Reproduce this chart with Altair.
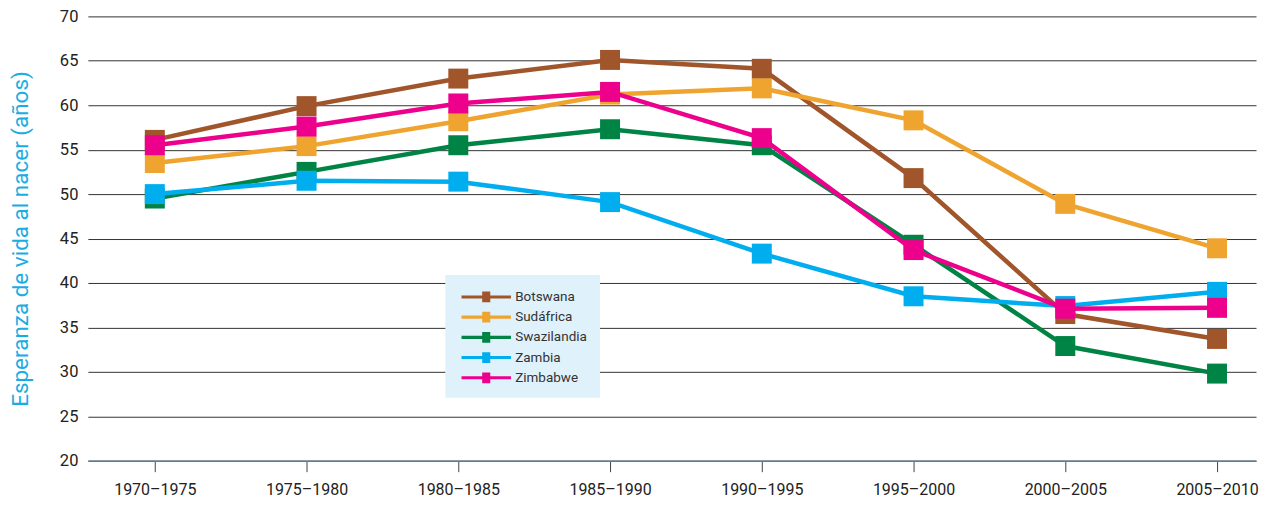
import altair as alt
import pandas as pd

periods = ["1970–1975", "1975–1980", "1980–1985", "1985–1990",
           "1990–1995", "1995–2000", "2000–2005", "2005–2010"]
countries = ["Botswana", "Sudáfrica", "Swazilandia", "Zambia", "Zimbabwe"]
colors = ["#A0552B", "#F0A430", "#008445", "#00AEEF", "#EC008C"]

botswana = [56.1, 59.9, 63.0, 65.1, 64.1, 51.8, 36.5, 33.7]
sudafrica = [53.5, 55.4, 58.2, 61.2, 61.9, 58.3, 48.9, 43.9]
swazilandia = [49.5, 52.5, 55.5, 57.3, 55.5, 44.3, 32.9, 29.8]
zambia = [50.0, 51.5, 51.4, 49.1, 43.3, 38.5, 37.4, 39.0]
zimbabwe = [55.5, 57.6, 60.2, 61.5, 56.3, 43.7, 37.1, 37.2]

y_ticks = [20, 25, 30, 35, 40, 45, 50, 55, 60, 65, 70]

series = [botswana, sudafrica, swazilandia, zambia, zimbabwe]
rows = []
for name, vals in zip(countries, series):
    for p, v in zip(periods, vals):
        rows.append({"periodo": p, "pais": name, "valor": v})
df = pd.DataFrame(rows)

FONT = "Roboto"

x_enc = alt.X(
    "periodo:N",
    scale=alt.Scale(type="point", domain=periods, padding=0.349, align=0.632),
    axis=alt.Axis(
        title=None, labelAngle=0, grid=False,
        domainColor="#5B7F95", domainWidth=1.5,
        tickColor="#444444", tickSize=11, tickWidth=1,
        labelFont=FONT, labelFontSize=16, labelColor="#222222",
        labelPadding=10,
    ),
)
y_enc = alt.Y(
    "valor:Q",
    scale=alt.Scale(domain=[20, 70], nice=False, zero=False),
    axis=alt.Axis(
        title="Esperanza de vida al nacer (años)",
        values=y_ticks, grid=True, gridColor="#333333", gridWidth=1,
        domain=False, ticks=False,
        labelFont=FONT, labelFontSize=16.5, labelColor="#222222", labelPadding=10,
        titleFont=FONT, titleFontSize=22.5, titleColor="#1AADE3",
        titleFontWeight="normal", titlePadding=27,
    ),
)

legend_path = "M-2.75,-0.17H2.75V0.17H-2.75Z M-0.45,-0.6H0.45V0.6H-0.45Z"

color_scale = alt.Scale(domain=countries, range=colors)
legend = alt.Legend(
    title=None, orient="none", legendX=358, legendY=259,
    fillColor="#DFF1FB", padding=13,
    symbolType=legend_path, symbolSize=324, symbolStrokeWidth=0,
    symbolOffset=19, labelOffset=20, rowPadding=4.25,
    labelFont=FONT, labelFontSize=13.5, labelColor="#333333",
)

layers = []
for name, col in zip(countries, colors):
    base = alt.Chart(df).transform_filter(alt.datum.pais == name)
    line = base.mark_line(strokeWidth=4.5, color=col).encode(x=x_enc, y=y_enc)
    pts = base.mark_point(shape="square", filled=True, size=400, opacity=1).encode(
        x=x_enc, y=y_enc,
        color=alt.Color("pais:N", scale=color_scale, legend=legend),
    )
    layers += [line, pts]

chart = alt.layer(*layers).properties(
    width=1170, height=445,
    autosize=alt.AutoSizeParams(type="none"),
    padding={"left": 80, "top": 8, "right": 4, "bottom": 42},
).configure_view(stroke=None)

chart.save("out.html", embed_options={"renderer": "svg", "actions": False})
